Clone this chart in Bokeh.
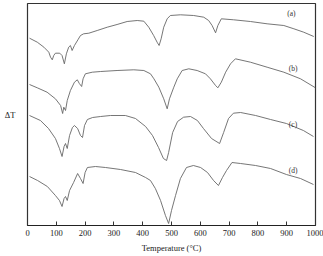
from bokeh.plotting import figure
from bokeh.models import Label, FixedTicker, Range1d
from bokeh.embed import file_html
from bokeh.resources import INLINE

# Temperature (°C) and ΔT (arbitrary units)
temp_a = [7, 34, 57, 74, 80, 86, 91, 97, 112, 120, 128, 135, 143, 149, 155, 163, 175, 184, 195, 213,
          242, 277, 311, 346, 381, 404, 421, 438, 450, 457, 464, 473, 485, 496, 531, 577, 612, 629,
          641, 653, 661, 673, 716, 774, 832, 890, 925, 959, 994]
dT_a = [187.3, 183.3, 178.3, 173.3, 168.3, 165.7, 170, 172.3, 172.3, 170, 161.7, 171.7, 178.3, 180,
        175, 180, 185.7, 190, 191.7, 192.3, 195, 198.3, 201, 204, 205, 204.3, 198.3, 190, 183.3, 180,
        186.7, 198.3, 206.7, 210, 210.7, 210, 208.3, 205, 200, 192.7, 200, 206.7, 205.7, 204, 201.7,
        200, 196.7, 193.3, 189]

temp_b = [7, 34, 68, 97, 115, 122, 126, 132, 138, 149, 163, 173, 180, 188, 193, 201, 225, 254, 311,
          369, 404, 427, 439, 456, 473, 485, 493, 508, 520, 537, 560, 589, 618, 635, 653, 661, 673,
          688, 705, 722, 774, 832, 890, 948, 1000]
dT_b = [141, 137.7, 133.3, 126.7, 120, 112, 118.3, 115, 125, 135, 143.3, 145.7, 142, 139, 146.7,
        151.7, 153.3, 154, 155, 155.7, 155, 151.7, 146.7, 138.3, 126.7, 116.7, 126.7, 138.3, 146.7,
        155, 156.7, 155, 151.7, 146.7, 140, 137.7, 143.3, 153.3, 161.7, 166.7, 163.3, 158.3, 153.3,
        146.7, 137.7]

temp_c = [7, 45, 73, 97, 111, 120, 127, 132, 138, 146, 156, 163, 174, 184, 191, 198, 208, 226, 254,
          288, 340, 375, 410, 434, 455, 472, 483, 490, 504, 521, 542, 566, 590, 611, 639, 667, 681,
          698, 715, 740, 792, 844, 899, 958, 993]
dT_c = [110, 105, 97, 87, 77, 69, 79, 82, 77, 90, 98, 100, 97, 90, 88, 100, 106, 108, 109, 110, 110,
        107, 99, 90, 78, 67, 65, 73, 93, 104, 108.3, 109, 105, 97, 87, 82, 93, 107, 112.3, 113, 110,
        106, 102, 95, 89]

temp_d = [7, 35, 69, 97, 111, 120, 127, 132, 138, 146, 160, 174, 184, 193, 200, 208, 236, 271, 323,
          375, 410, 427, 444, 462, 479, 490, 500, 514, 531, 552, 576, 601, 625, 646, 663, 677, 691,
          710, 740, 792, 844, 899, 948, 993]
dT_d = [49, 45, 39, 30, 25, 19, 27, 29, 25, 35, 43, 52, 47, 42, 53, 58, 59, 58, 56, 53, 48, 45, 37,
        25, 10, 2, 15, 30, 47, 58, 60, 58, 53, 45, 40, 48, 55, 63, 62, 60, 57, 51, 47, 41]

series_labels = ["(a)", "(b)", "(c)", "(d)"]
label_temps = [916, 922, 922, 922]
label_dT = [212, 157, 101, 55]
x_ticks = [0, 100, 200, 300, 400, 500, 600, 700, 800, 900, 1000]

SERIF = "Liberation Serif"

p = figure(width=323, height=256, output_backend="svg", toolbar_location=None,
           x_range=Range1d(0, 1000), y_range=Range1d(0, 222),
           min_border_left=27, min_border_right=8, min_border_top=3, min_border_bottom=31)
p.background_fill_color = "white"
p.border_fill_color = "white"
p.outline_line_color = "#333333"
p.outline_line_width = 1.2
p.grid.visible = False

yax = p.yaxis[0]
yax.axis_label = "ΔT"
yax.axis_label_orientation = "horizontal"
yax.axis_label_text_font = SERIF
yax.axis_label_text_font_size = "8.5px"
yax.axis_label_text_font_style = "normal"
yax.axis_label_text_color = "#222222"
yax.axis_label_standoff = 8
yax.axis_line_color = None
yax.major_tick_line_color = None
yax.minor_tick_line_color = None
yax.major_tick_out = 0
yax.major_tick_in = 0
yax.major_label_standoff = 0
yax.major_label_text_font_size = "0px"
yax.major_label_text_color = None

ax = p.xaxis[0]
ax.ticker = FixedTicker(ticks=x_ticks)
ax.major_tick_in = 4
ax.major_tick_out = 0
ax.minor_tick_line_color = None
ax.axis_line_color = "#222222"
ax.axis_line_width = 1.2
ax.major_tick_line_color = "#333333"
ax.major_label_text_font = SERIF
ax.major_label_text_font_size = "8.5px"
ax.major_label_text_color = "#222222"
ax.major_label_standoff = 4
ax.axis_label = "Temperature (°C)"
ax.axis_label_text_font = SERIF
ax.axis_label_text_font_size = "8.5px"
ax.axis_label_text_font_style = "normal"
ax.axis_label_text_color = "#222222"
ax.axis_label_standoff = 4

for t, d in [(temp_a, dT_a), (temp_b, dT_b), (temp_c, dT_c), (temp_d, dT_d)]:
    p.line(t, d, line_color="#666666", line_width=0.9)

for s, tx, ty in zip(series_labels, label_temps, label_dT):
    p.add_layout(Label(x=tx, y=ty, text=s, text_font=SERIF, text_font_size="7.5px",
                       text_color="#333333", text_align="center", text_baseline="middle"))

open("out.html", "w").write(file_html(p, INLINE))
